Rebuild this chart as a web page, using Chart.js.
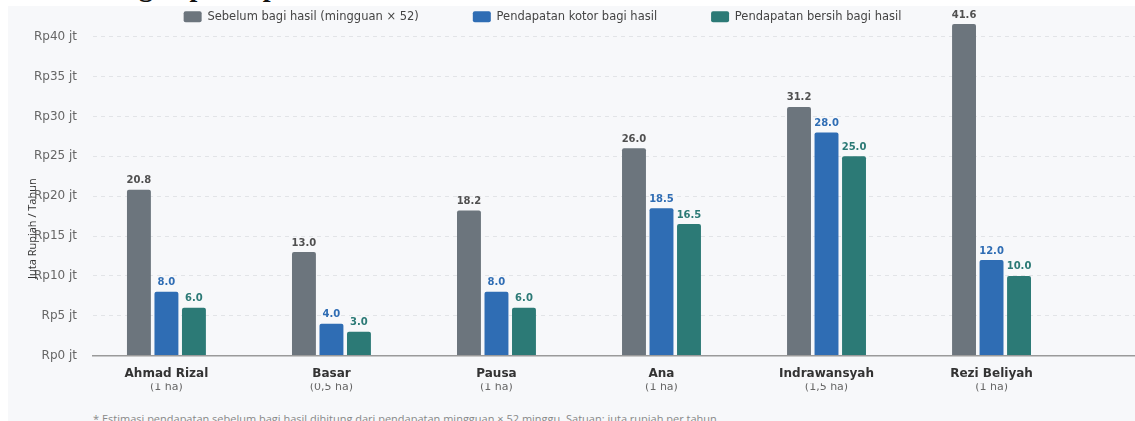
<!DOCTYPE html>
<html lang="id">
<head>
<meta charset="utf-8">
<title>Perbandingan pendapatan</title>
<script src="https://cdn.jsdelivr.net/npm/chart.js@4.4.1/dist/chart.umd.min.js"></script>
<style>
  html, body { margin: 0; padding: 0; background: #fff; overflow: hidden; }
  body { width: 1135px; height: 421px; position: relative; font-family: "Open Sans", sans-serif; }
  h1 { position: absolute; left: 13px; top: -27px; margin: 0; font: bold 28px/28px "Liberation Serif", serif; color: #111; white-space: nowrap; }
  .panel { position: absolute; left: 8px; top: 6px; width: 1200px; height: 430px; background: #f7f8fa; overflow: hidden; }
  .chart { position: absolute; left: -68px; top: -49px; }
  .note { position: absolute; left: 85px; top: 405px; font-size: 11px; color: #888; white-space: nowrap; }
</style>
</head>
<body>
<h1>Perbandingan pendapatan</h1>
<div class="panel">
  <div class="chart"><canvas id="grafik" width="1205" height="435"></canvas></div>
  <div class="note">* Estimasi pendapatan sebelum bagi hasil dihitung dari pendapatan mingguan × 52 minggu. Satuan: juta rupiah per tahun.</div>
</div>
<script>
// data petani (juta rupiah / tahun)
const petani = ['Ahmad Rizal', 'Basar', 'Pausa', 'Ana', 'Indrawansyah', 'Rezi Beliyah'];
const luasLahan = ['(1 ha)', '(0,5 ha)', '(1 ha)', '(1 ha)', '(1,5 ha)', '(1 ha)'];
const sebelumBagiHasil = [20.8, 13.0, 18.2, 26.0, 31.2, 41.6];
const kotorBagiHasil = [8.0, 4.0, 8.0, 18.5, 28.0, 12.0];
const bersihBagiHasil = [6.0, 3.0, 6.0, 16.5, 25.0, 10.0];
const tickY = [0, 5, 10, 15, 20, 25, 30, 35, 40];

const warnaBar = ['#6c757d', '#2f6db4', '#2c7a76'];
const warnaLabel = ['#505050', '#2f6db4', '#2c7a76'];

Chart.defaults.font.family = '"DejaVu Sans", sans-serif';

function titik(arr) {
  return arr.map(function (v, i) { return { x: i, y: v }; });
}

// legend lebih rapat ke area grafik
const legendRapat = {
  id: 'legendRapat',
  beforeInit: function (chart) {
    const fitAsli = chart.legend.fit;
    chart.legend.fit = function () {
      fitAsli.bind(chart.legend)();
      this.height -= 8.5;
    };
  }
};

const labelNilai = {
  id: 'labelNilai',
  afterDatasetsDraw: function (chart) {
    const ctx = chart.ctx;
    ctx.save();
    ctx.font = 'bold 10px "DejaVu Sans"';
    ctx.textAlign = 'center';
    ctx.textBaseline = 'bottom';
    chart.data.datasets.forEach(function (ds, i) {
      chart.getDatasetMeta(i).data.forEach(function (bar, j) {
        ctx.fillStyle = warnaLabel[i];
        ctx.fillText(ds.data[j].y.toFixed(1), bar.x, bar.y - 4);
      });
    });
    ctx.restore();
  }
};

const judulSumbuY = {
  id: 'judulSumbuY',
  afterDraw: function (chart) {
    const ctx = chart.ctx;
    const area = chart.chartArea;
    ctx.save();
    ctx.translate(area.left - 60, area.bottom - 127);
    ctx.rotate(-Math.PI / 2);
    ctx.font = '11px "Open Sans"';
    ctx.fillStyle = '#333';
    ctx.textAlign = 'center';
    ctx.textBaseline = 'middle';
    ctx.fillText('Juta Rupiah / Tahun', 0, 0);
    ctx.restore();
  }
};

new Chart(document.getElementById('grafik'), {
  type: 'bar',
  data: {
    datasets: [
      { label: 'Sebelum bagi hasil (mingguan × 52)', data: titik(sebelumBagiHasil), backgroundColor: warnaBar[0] },
      { label: 'Pendapatan kotor bagi hasil', data: titik(kotorBagiHasil), backgroundColor: warnaBar[1] },
      { label: 'Pendapatan bersih bagi hasil', data: titik(bersihBagiHasil), backgroundColor: warnaBar[2] }
    ]
  },
  options: {
    responsive: false,
    animation: false,
    categoryPercentage: 0.5,
    barPercentage: 0.87,
    borderRadius: { topLeft: 2, topRight: 2 },
    borderSkipped: 'bottom',
    layout: { padding: 0 },
    scales: {
      x: {
        type: 'linear', min: -0.445, max: 5.93, offset: false, position: 'bottom', weight: 0,
        grid: { display: false, drawTicks: false, offset: false },
        border: { display: true, color: '#9a9a9a', width: 1.5 },
        afterBuildTicks: function (s) { s.ticks = petani.map(function (p, i) { return { value: i }; }); },
        ticks: {
          padding: 11, color: '#333', autoSkip: false, maxRotation: 0,
          font: { size: 12, weight: 'bold' },
          callback: function (v) { return petani[v]; }
        }
      },
      x2: {
        type: 'linear', min: -0.445, max: 5.93, offset: false, position: 'bottom', weight: 1,
        grid: { display: false, drawTicks: false, offset: false },
        border: { display: false },
        afterBuildTicks: function (s) { s.ticks = luasLahan.map(function (p, i) { return { value: i }; }); },
        ticks: {
          padding: -11, color: '#666', autoSkip: false, maxRotation: 0,
          font: { size: 11 },
          callback: function (v) { return luasLahan[v]; }
        }
      },
      y: {
        min: 0,
        max: Math.max.apply(null, sebelumBagiHasil),
        afterBuildTicks: function (s) { s.ticks = tickY.map(function (v) { return { value: v }; }); },
        afterFit: function (s) { s.width = 153; },
        grid: { color: '#e2e4e7', lineWidth: 1, drawTicks: false },
        border: { display: false, dash: [4, 4] },
        ticks: {
          padding: 16, color: '#666',
          font: { size: 12 },
          callback: function (v) { return 'Rp' + v + ' jt'; }
        }
      }
    },
    plugins: {
      legend: {
        position: 'top',
        labels: {
          boxWidth: 18, boxHeight: 11, useBorderRadius: true, borderRadius: 2,
          padding: 54, color: '#444', font: { size: 11.5 }
        }
      },
      tooltip: { enabled: false }
    }
  },
  plugins: [legendRapat, labelNilai, judulSumbuY]
});
</script>
</body>
</html>
